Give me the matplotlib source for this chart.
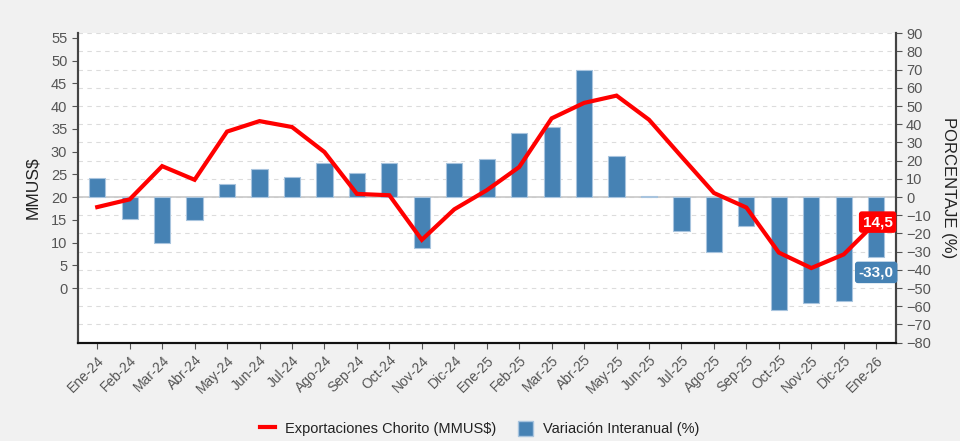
import matplotlib
matplotlib.use("Agg")
import matplotlib.pyplot as plt
from matplotlib.lines import Line2D
from matplotlib.patches import Patch
import numpy as np

plt.rcParams['font.family'] = ['Liberation Sans', 'DejaVu Sans']

months = ["Ene-24", "Feb-24", "Mar-24", "Abr-24", "May-24", "Jun-24", "Jul-24",
          "Ago-24", "Sep-24", "Oct-24", "Nov-24", "Dic-24", "Ene-25", "Feb-25",
          "Mar-25", "Abr-25", "May-25", "Jun-25", "Jul-25", "Ago-25", "Sep-25",
          "Oct-25", "Nov-25", "Dic-25", "Ene-26"]
exports = [17.8, 19.5, 26.8, 23.8, 34.4, 36.7, 35.4, 29.9, 20.7, 20.4, 10.6, 17.3,
           21.5, 26.6, 37.3, 40.7, 42.3, 37.0, 28.9, 20.9, 17.7, 7.8, 4.4, 7.4, 14.5]
variation = [10.3, -11.9, -25.3, -12.5, 7.0, 15.2, 11.2, 18.9, 13.2, 18.5, -28.0, 18.5,
             21.0, 35.0, 38.6, 70.1, 22.7, 0.4, -18.9, -30.2, -15.8, -62.3, -58.1, -57.3, -33.0]
left_ticks = list(range(0, 56, 5))
right_ticks = list(range(-80, 91, 10))

fig = plt.figure(figsize=(9.6, 4.41), dpi=100, facecolor="#f1f1f1")
# primary axes: bars, percentage scale on the right
axb = fig.add_axes([0.081, 0.223, 0.852, 0.7015])
axb.set_facecolor("white")
# twin axes: line, MMUS$ scale on the left
axl = axb.twinx()

x = np.arange(len(months))
blue = "#4682b4"
red = "#ff0000"
tick_col = "#555555"

axb.yaxis.tick_right()
axb.yaxis.set_label_position("right")
axl.yaxis.tick_left()
axl.yaxis.set_label_position("left")

axb.bar(x, variation, width=0.5, color=blue, edgecolor="#a8c4de", linewidth=0.8, zorder=3)
axb.axhline(0, color="#c8c8c8", lw=1.2, zorder=2)
axb.set_ylim(-80, 90)
axb.set_yticks(right_ticks)
axb.yaxis.grid(True, color="#dcdcdc", linestyle=(0, (4, 4)), lw=0.8)
axb.set_axisbelow(True)
axb.set_ylabel("PORCENTAJE (%)", rotation=-90, labelpad=18, fontsize=12, color="#222222")
axb.set_xlim(-0.6, len(months) - 0.4)
axb.set_xticks(x)
axb.set_xticklabels(months, rotation=45, ha="right", rotation_mode="anchor", fontsize=10, color=tick_col)

axl.plot(x, exports, color=red, lw=3, zorder=5, solid_joinstyle="miter")
axl.set_ylim(-12, 56)
axl.set_yticks(left_ticks)
axl.set_ylabel("MMUS$", fontsize=12.5, labelpad=8, color="#222222")

for a in (axb, axl):
    a.spines["top"].set_visible(False)
    a.tick_params(axis="y", labelsize=10.5, labelcolor=tick_col, color="#555555", length=4)
    a.tick_params(axis="x", color="#555555", length=4)
    a.spines["left"].set_color("#444444")
    a.spines["right"].set_color("#444444")
    a.spines["left"].set_linewidth(1.5)
    a.spines["right"].set_linewidth(1.5)
    a.spines["bottom"].set_color("#111111")
    a.spines["bottom"].set_linewidth(1.5)

# end labels
last = len(months) - 1
axl.annotate(f"{exports[-1]:.1f}".replace(".", ","), xy=(last, exports[-1]), xytext=(1, 0),
             textcoords="offset points", ha="center", va="center", fontsize=11, fontweight="bold",
             color="white", zorder=10,
             bbox=dict(boxstyle="round,pad=0.2,rounding_size=0.15", fc=red, ec=red))
axl.annotate(f"{variation[-1]:.1f}".replace(".", ","), xy=(last, variation[-1]),
             xycoords=axb.transData, xytext=(0, -11),
             textcoords="offset points", ha="center", va="center", fontsize=11, fontweight="bold",
             color="white", zorder=10,
             bbox=dict(boxstyle="round,pad=0.2,rounding_size=0.15", fc=blue, ec=blue))

handles = [Line2D([0], [0], color=red, lw=3),
           Patch(facecolor=blue, edgecolor="#a8c4de")]
fig.legend(handles, ["Exportaciones Chorito (MMUS$)", "Variación Interanual (%)"],
           loc="center", bbox_to_anchor=(0.5, 0.028), ncol=2, frameon=False,
           fontsize=10.5, handlelength=1.0, handleheight=1.2, columnspacing=1.5,
           handletextpad=0.7, labelcolor="#222222")

fig.savefig("out.png", dpi=100, facecolor=fig.get_facecolor())
